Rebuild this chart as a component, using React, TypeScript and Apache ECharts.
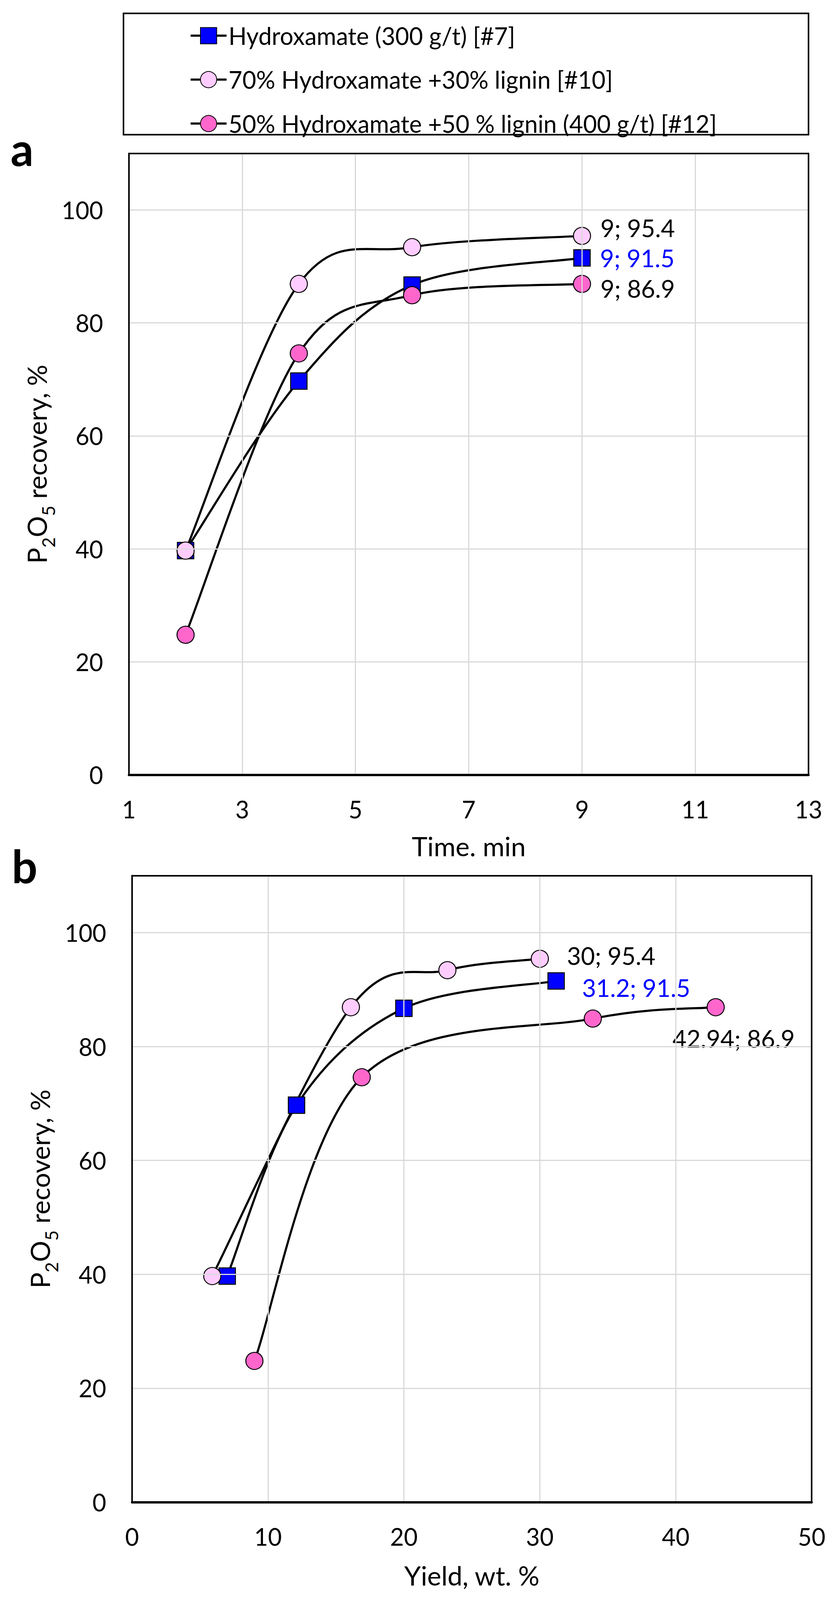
import React, { useEffect, useRef } from 'react';
import * as echarts from 'echarts';

// ---------- data ----------
const seriesNames = [
  'Hydroxamate (300 g/t) [#7]',
  '70% Hydroxamate +30% lignin [#10]',
  '50% Hydroxamate +50 % lignin (400 g/t) [#12]',
];
const timeMin = [2, 4, 6, 9];
const recoveryHydrox = [39.7, 69.7, 86.7, 91.5];
const recoveryLig30 = [39.7, 86.9, 93.4, 95.4];
const recoveryLig50 = [24.8, 74.6, 84.9, 86.9];
const yieldHydrox = [7.0, 12.1, 20.0, 31.2];
const yieldLig30 = [5.9, 16.1, 23.2, 30];
const yieldLig50 = [9.0, 16.9, 33.9, 42.94];
const timeTicks = { min: 1, max: 13, interval: 2 };
const yieldTicks = { min: 0, max: 50, interval: 10 };
const recoveryTicks = { min: 0, max: 110, interval: 20 };

// ---------- styles ----------
const FONT = "Lato, 'Open Sans', sans-serif";
const GRID_COLOR = '#D9D9D9';
const LINE_W = 5.5;
const seriesStyle = [
  { fill: '#0000FF', symbol: 'rect', size: 42, label: '#0000FF' },
  { fill: '#FFCCFF', symbol: 'circle', size: 44, label: '#000000' },
  { fill: '#FF66CC', symbol: 'circle', size: 44, label: '#000000' },
];
const labelPlacementA = [
  { position: 'right', distance: 24, offset: [0, 0] },
  { position: 'right', distance: 24, offset: [0, -21] },
  { position: 'right', distance: 24, offset: [0, 11] },
];
const labelPlacementB = [
  { position: 'right', distance: 44, offset: [0, 17] },
  { position: 'right', distance: 46, offset: [0, -8] },
  { position: 'bottom', distance: 25, offset: [46, 0] },
];

// Excel-like smoothed curve (Catmull-Rom -> cubic Bezier), drawn through the axes' scales
function curveSeries(xs: number[], ys: number[], axisIdx: number, key: string) {
  return {
    type: 'custom',
    name: 'curve-' + key,
    coordinateSystem: 'cartesian2d',
    xAxisIndex: axisIdx,
    yAxisIndex: axisIdx,
    data: xs.map((x, i) => [x, ys[i]]),
    encode: { x: 0, y: 1 },
    silent: true,
    z: 2,
    renderItem: (params: any, api: any) => {
      if (params.dataIndex !== 0) return null;
      const p = xs.map((x, i) => api.coord([x, ys[i]]));
      const n = p.length;
      let d = `M${p[0][0]} ${p[0][1]}`;
      for (let i = 0; i < n - 1; i++) {
        const p0 = p[Math.max(0, i - 1)];
        const p1 = p[i];
        const p2 = p[i + 1];
        const p3 = p[Math.min(n - 1, i + 2)];
        const c1x = p1[0] + (p2[0] - p0[0]) / 6;
        const c1y = p1[1] + (p2[1] - p0[1]) / 6;
        const c2x = p2[0] - (p3[0] - p1[0]) / 6;
        const c2y = p2[1] - (p3[1] - p1[1]) / 6;
        d += ` C${c1x} ${c1y} ${c2x} ${c2y} ${p2[0]} ${p2[1]}`;
      }
      return {
        type: 'path',
        shape: { pathData: d },
        style: { fill: 'none', stroke: '#000', lineWidth: LINE_W },
      };
    },
  };
}

function markerSeries(xs: number[], ys: number[], idx: number, axisIdx: number, placement: any) {
  const st = seriesStyle[idx];
  const last = xs.length - 1;
  const data = xs.map((x, i) =>
    i === last
      ? {
          value: [x, ys[i]],
          label: {
            show: true,
            formatter: `${x}; ${ys[i]}`,
            position: placement.position,
            distance: placement.distance,
            offset: placement.offset,
            color: st.label,
            fontSize: 62,
            lineHeight: 62,
            fontFamily: FONT,
          },
        }
      : [x, ys[i]]
  );
  return {
    type: 'line',
    name: seriesNames[idx],
    xAxisIndex: axisIdx,
    yAxisIndex: axisIdx,
    data,
    symbol: st.symbol,
    symbolSize: st.size,
    showAllSymbol: true,
    lineStyle: { color: '#000', width: LINE_W, opacity: 0 },
    itemStyle: { color: st.fill, borderColor: '#000', borderWidth: 2.5 },
    label: { show: false },
    z: 3 + idx,
  };
}

export default function App() {
  const ref = useRef<HTMLDivElement>(null);
  useEffect(() => {
    document.body.style.margin = '0';
    document.body.style.overflow = 'hidden';
    document.documentElement.style.overflow = 'hidden';
    const el = ref.current;
    if (!el) return;
    const H = Math.min(4433, window.innerHeight || 4433);
    const sy = H / 4433;
    el.style.height = H + 'px';
    const Y = (v: number) => v * sy;

    const bottomXAxis = (grid: number, ticks: any, name: string, nameGap: number) => ({
      gridIndex: grid,
      type: 'value',
      position: 'bottom',
      ...ticks,
      axisLine: { show: true, onZero: false, lineStyle: { color: '#000', width: 6 } },
      axisTick: { show: false },
      axisLabel: { margin: Y(62), fontSize: 61, fontFamily: FONT, color: '#000' },
      splitLine: { show: true, lineStyle: { color: GRID_COLOR, width: 3 } },
      name,
      nameLocation: 'middle',
      nameGap: Y(nameGap),
      nameTextStyle: { fontSize: 68, fontFamily: FONT, color: '#000' },
      z: 6,
    });
    const topXAxis = (grid: number, ticks: any) => ({
      gridIndex: grid,
      type: 'value',
      position: 'top',
      ...ticks,
      axisLine: { show: true, onZero: false, lineStyle: { color: '#000', width: 4 } },
      axisTick: { show: false },
      axisLabel: { show: false },
      splitLine: { show: false },
      z: 6,
    });
    const yName = '{n|P}{s|2}{n|O}{s|5}{n| recovery, %}';
    const leftYAxis = (grid: number) => ({
      gridIndex: grid,
      type: 'value',
      position: 'left',
      ...recoveryTicks,
      axisLine: { show: true, onZero: false, lineStyle: { color: '#000', width: 4 } },
      axisTick: { show: false },
      axisLabel: { margin: 66, fontSize: 61, fontFamily: FONT, color: '#000', showMaxLabel: false },
      splitLine: { show: true, lineStyle: { color: GRID_COLOR, width: 3 } },
      name: yName,
      nameLocation: 'middle',
      nameRotate: 90,
      nameGap: 150,
      nameTextStyle: {
        fontFamily: FONT,
        color: '#000',
        rich: {
          n: { fontSize: 68, fontFamily: FONT, color: '#000', lineHeight: 106, verticalAlign: 'middle' },
          s: { fontSize: 46, fontFamily: FONT, color: '#000', lineHeight: 106, verticalAlign: 'bottom' },
        },
      },
      z: 6,
    });
    const rightYAxis = (grid: number) => ({
      gridIndex: grid,
      type: 'value',
      position: 'right',
      ...recoveryTicks,
      axisLine: { show: true, onZero: false, lineStyle: { color: '#000', width: 4 } },
      axisTick: { show: false },
      axisLabel: { show: false },
      splitLine: { show: false },
      z: 6,
    });

    const legendItemH = 52;
    const chart = echarts.init(el, undefined, { renderer: 'svg' });
    const option: any = {
      animation: false,
      backgroundColor: '#fff',
      grid: [
        { left: 330, top: Y(425), width: 1739, height: Y(1722) },
        { left: 338, top: Y(2426), width: 1739, height: Y(1736) },
      ],
      xAxis: [
        bottomXAxis(0, timeTicks, 'Time. min', 160),
        topXAxis(0, timeTicks),
        bottomXAxis(1, yieldTicks, 'Yield, wt. %', 165),
        topXAxis(1, yieldTicks),
      ],
      yAxis: [leftYAxis(0), rightYAxis(0), leftYAxis(1), rightYAxis(1)],
      legend: {
        data: seriesNames,
        orient: 'vertical',
        left: 485,
        top: Y(94) - legendItemH / 2,
        itemWidth: 92,
        itemHeight: legendItemH,
        itemGap: Y(112) - legendItemH,
        padding: 0,
        lineStyle: { color: '#000', width: LINE_W, opacity: 1 },
        textStyle: { fontSize: 61, fontFamily: FONT, color: '#000', lineHeight: legendItemH },
      },
      graphic: [
        {
          type: 'rect',
          shape: { x: 316, y: Y(37), width: 1753, height: Y(336) },
          style: { fill: 'none', stroke: '#000', lineWidth: 4 },
          z: 0,
        },
        {
          type: 'text',
          x: 27,
          y: Y(412),
          style: { text: 'a', fontSize: 116, fontWeight: 'bold', fontFamily: FONT, fill: '#000', verticalAlign: 'middle' },
        },
        {
          type: 'text',
          x: 30,
          y: Y(2399),
          style: { text: 'b', fontSize: 116, fontWeight: 'bold', fontFamily: FONT, fill: '#000', verticalAlign: 'middle' },
        },
      ],
      series: [
        curveSeries(timeMin, recoveryHydrox, 0, 'a0'),
        curveSeries(timeMin, recoveryLig30, 0, 'a1'),
        curveSeries(timeMin, recoveryLig50, 0, 'a2'),
        curveSeries(yieldHydrox, recoveryHydrox, 2, 'b0'),
        curveSeries(yieldLig30, recoveryLig30, 2, 'b1'),
        curveSeries(yieldLig50, recoveryLig50, 2, 'b2'),
        markerSeries(timeMin, recoveryHydrox, 0, 0, labelPlacementA[0]),
        markerSeries(timeMin, recoveryLig30, 1, 0, labelPlacementA[1]),
        markerSeries(timeMin, recoveryLig50, 2, 0, labelPlacementA[2]),
        markerSeries(yieldHydrox, recoveryHydrox, 0, 2, labelPlacementB[0]),
        markerSeries(yieldLig30, recoveryLig30, 1, 2, labelPlacementB[1]),
        markerSeries(yieldLig50, recoveryLig50, 2, 2, labelPlacementB[2]),
      ],
    };
    chart.setOption(option);
    return () => chart.dispose();
  }, []);
  return <div ref={ref} style={{ width: 2124, height: 4433 }} />;
}
